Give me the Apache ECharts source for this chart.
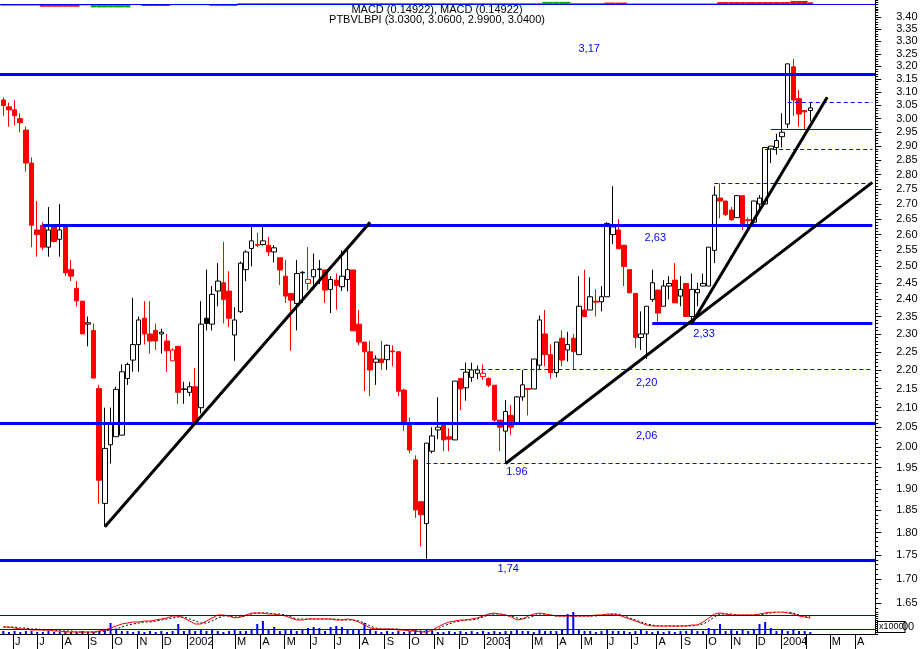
<!DOCTYPE html>
<html>
<head>
<meta charset="utf-8">
<title>PTBVLBPI</title>
<script src="https://cdn.jsdelivr.net/npm/echarts@6.0.0/dist/echarts.min.js"></script>
<style>
html,body{margin:0;padding:0;background:#ffffff;}
#chart{width:922px;height:649px;}
</style>
</head>
<body>
<div id="chart"></div>
<script>
// ---------------- DATA ----------------
// weekly candles, week index i = -1 .. 143 (first one is partly outside the plot)
const firstWeek = '2001-05-11';
const weekCount = 156; // categories i = -1 .. 154 (the last weeks are empty)

const priceOpen = [3.075,
 3.07,3.044,3.033,3.00,2.958,2.84,2.615,2.63,2.56,2.625,
 2.585,2.625,2.49,2.433,2.395,2.328,2.31,2.15,1.866,2.006,
 2.026,2.03,2.177,2.227,2.27,2.345,2.30,2.31,2.30,2.28,
 2.225,2.265,2.148,2.14,2.155,2.10,2.345,2.328,2.425,2.45,
 2.425,2.297,2.364,2.49,2.556,2.568,2.568,2.566,2.545,2.527,
 2.47,2.418,2.388,2.48,2.448,2.468,2.49,2.489,2.43,2.458,
 2.438,2.46,2.489,2.328,2.277,2.25,2.221,2.23,2.228,2.252,
 2.25,2.146,2.058,1.969,1.87,1.82,1.99,2.043,2.058,2.026,
 2.018,2.177,2.152,2.18,2.191,2.182,2.177,2.159,2.068,2.04,
 2.08,2.06,2.128,2.15,2.149,2.213,2.30,2.242,2.193,2.288,
 2.255,2.288,2.242,2.369,2.369,2.395,2.393,2.408,2.60,2.615,
 2.566,2.49,2.418,2.29,2.30,2.40,2.428,2.38,2.44,2.458,
 2.41,2.448,2.35,2.42,2.44,2.44,2.55,2.72,2.71,2.68,
 2.655,2.728,2.648,2.64,2.70,2.70,2.89,2.895,2.934,2.98,
 3.198,3.075,3.03,3.03];
const priceClose = [3.085,
 3.049,3.033,3.011,2.985,2.84,2.63,2.60,2.56,2.615,2.578,
 2.615,2.48,2.47,2.396,2.30,2.332,2.178,1.92,1.997,2.06,
 2.148,2.195,2.215,2.27,2.34,2.30,2.28,2.28,2.305,2.253,
 2.255,2.14,2.149,2.155,2.06,2.328,2.33,2.415,2.455,2.40,
 2.345,2.34,2.51,2.545,2.58,2.566,2.58,2.545,2.558,2.489,
 2.41,2.398,2.478,2.482,2.46,2.49,2.492,2.428,2.46,2.442,
 2.47,2.49,2.309,2.277,2.25,2.20,2.23,2.22,2.268,2.25,
 2.143,2.06,1.993,1.851,1.84,2.01,2.028,2.05,2.018,2.02,
 2.17,2.149,2.194,2.20,2.20,2.191,2.159,2.068,2.05,2.09,
 2.05,2.128,2.16,2.148,2.23,2.34,2.242,2.193,2.277,2.227,
 2.27,2.25,2.38,2.35,2.408,2.392,2.408,2.636,2.625,2.555,
 2.50,2.42,2.29,2.30,2.38,2.45,2.36,2.44,2.448,2.39,
 2.43,2.35,2.43,2.43,2.448,2.56,2.73,2.71,2.665,2.648,
 2.728,2.636,2.645,2.71,2.72,2.895,2.90,2.92,2.95,3.21,
 3.07,3.017,3.025,3.04];
const priceLow = [3.07,
 3.01,2.97,2.975,2.95,2.81,2.56,2.53,2.55,2.53,2.575,
 2.53,2.47,2.455,2.38,2.30,2.265,2.178,1.865,1.813,1.96,
 2.026,2.03,2.16,2.195,2.195,2.27,2.245,2.255,2.245,2.195,
 2.225,2.11,2.11,2.13,2.06,2.085,2.31,2.31,2.38,2.33,
 2.32,2.225,2.36,2.455,2.50,2.56,2.565,2.532,2.512,2.443,
 2.39,2.253,2.31,2.39,2.428,2.43,2.446,2.39,2.36,2.37,
 2.425,2.424,2.309,2.268,2.143,2.13,2.16,2.20,2.20,2.21,
 2.13,2.04,1.985,1.833,1.77,1.743,1.985,2.02,1.99,1.99,
 2.018,2.094,2.118,2.168,2.175,2.173,2.154,2.058,1.99,1.96,
 2.03,2.055,2.118,2.08,2.149,2.20,2.21,2.177,2.18,2.21,
 2.223,2.20,2.242,2.35,2.369,2.35,2.365,2.408,2.57,2.555,
 2.44,2.418,2.26,2.255,2.23,2.393,2.33,2.38,2.40,2.39,
 2.38,2.35,2.33,2.38,2.44,2.44,2.51,2.653,2.66,2.645,
 2.655,2.615,2.62,2.635,2.68,2.70,2.84,2.87,2.895,2.965,
 3.01,2.97,2.96,2.99];
const priceHigh = [3.09,
 3.08,3.06,3.07,3.02,2.97,2.86,2.71,2.64,2.69,2.63,
 2.70,2.625,2.52,2.455,2.395,2.35,2.33,2.16,2.10,2.10,
 2.155,2.215,2.22,2.405,2.35,2.395,2.395,2.33,2.315,2.30,
 2.26,2.265,2.168,2.168,2.205,2.395,2.49,2.44,2.51,2.577,
 2.485,2.377,2.515,2.55,2.625,2.605,2.625,2.593,2.566,2.527,
 2.52,2.418,2.52,2.485,2.56,2.54,2.52,2.49,2.47,2.478,
 2.55,2.554,2.489,2.369,2.277,2.28,2.24,2.28,2.27,2.268,
 2.25,2.15,2.075,1.98,1.87,2.01,2.05,2.127,2.063,2.047,
 2.17,2.177,2.22,2.22,2.212,2.215,2.18,2.159,2.068,2.12,
 2.107,2.13,2.20,2.15,2.23,2.353,2.369,2.27,2.277,2.31,
 2.306,2.30,2.47,2.49,2.466,2.43,2.44,2.64,2.76,2.65,
 2.566,2.49,2.418,2.365,2.38,2.49,2.428,2.458,2.47,2.51,
 2.47,2.448,2.478,2.45,2.478,2.56,2.76,2.77,2.71,2.69,
 2.73,2.728,2.655,2.71,2.73,2.895,2.90,2.945,3.02,3.21,
 3.23,3.108,3.03,3.06];
const blackFilledWeeks = [36];
const hollowRedWeeks = [30, 54, 85];

// MACD panel (i = 0 .. 143), panel units
const macdLine = [7,7,6,5,5,4,4,4,4,3, 3,2,2,2,2,2,2,3,4,6, 8,10,11,12,12,13,13,14,15,16,
 18,18,16,13,10,10,13,16,19,19, 18,16,17,19,21,21,21,20,20,19, 18,16,14,14,15,15,15,15,15,14,
 14,15,14,12,9,6,5,5,5,5, 4,4,3,3,2,2,4,7,10,12, 13,14,14,15,16,18,20,21,20,19,
 17,14,15,18,20,21,20,19,18,18, 18,18,18,18,18,19,19,20,20,19, 17,15,13,11,9,8,8,8,8,8,
 8,8,9,9,12,16,20,21,20,19, 19,19,19,19,20,21,22,22,22,21, 20,18,17,16];
const macdSignal = [7,7,7,6,6,5,5,4,4,4, 3,3,3,2,2,2,2,2,3,4, 5,7,9,10,11,12,12,13,14,15,
 16,17,17,15,13,11,11,13,16,18, 18,17,17,18,20,21,21,21,20,20, 19,17,15,15,15,15,15,15,15,15,
 14,14,14,13,11,8,6,5,5,5, 5,4,4,3,3,2,3,5,8,10, 12,13,14,14,15,17,19,20,20,19,
 18,16,15,16,18,20,20,19,18,18, 18,18,18,18,18,18,19,19,20,20, 18,16,14,12,10,9,8,8,8,8,
 8,8,8,9,10,13,17,20,20,20, 19,19,19,19,19,20,21,22,22,22, 21,19,18,17];
const volumeBars = [3,2,3,2,3,3,2,2,3,2, 2,3,2,2,3,2,2,3,4,11, 4,3,3,2,3,2,3,2,3,2,
 3,10,3,4,3,5,3,4,3,2, 3,4,3,3,4,10,13,4,7,3, 4,5,3,4,6,7,6,3,7,8,
 7,4,5,4,11,4,3,2,3,2, 3,2,3,4,3,4,3,2,2,3, 2,3,2,3,2,3,2,3,2,3,
 3,4,3,3,2,4,3,3,3,4, 20,22,4,3,3,2,3,4,3,3, 3,2,3,4,3,2,3,2,3,2,
 3,3,4,3,3,6,4,10,3,4, 3,4,3,4,10,12,6,3,4,3, 4,3,3,2];

// top strip histogram (i = 0 .. 143)
const topRed = [-0.2,-0.2,-0.2,-0.2,-0.2,-0.2,-0.2, -0.45,-0.45,-0.45,-0.45,-0.45,-0.45,-0.45,
 -0.15,-0.15, 0,0,0,0,0,0,0, -0.1,-0.1, -0.3,-0.3,-0.3,-0.3,-0.3, -0.1,-0.1,-0.1,-0.1,-0.1,-0.1,-0.1,
 -0.25,-0.25,-0.25,-0.25,-0.25,
 0.3,0.3,0.3,0.3,0.3,0.3,0.3,0.3,0.3,0.3, 0.3,0.3,0.3,0.3,0.3,0.3,0.3,0.3,0.3,0.3,
 0.3,0.3,0.3,0.3,0.3,0.3,0.3,0.3,0.3,0.3, 0.3,0.3,0.3,0.3,0.3,0.3,0.3,0.3,0.3,0.3,
 0.3,0.3,0.3,0.3,0.3,0.3,0.3,0.3,0.3,0.3, 0.3,0.3,0.3,0.3,
 0,0,0,0,0, 0.3,0.3,0.3,0.3,0.3,0.3, 0.45,0.45,0.45,0.45,
 0.25,0.25,0.25,0.25,0.25,0.25,0.25,0.25,0.25,0.25,0.25,0.25,0.25,0.25,0.25,0.25,
 0.55,0.55,0.55,0.55,0.55,0.55,0.55,0.55,0.55,0.55,0.55,0.55,0.55, 0.8,0.8,0.8, 0.5];
const topGreen = ['-','-','-','-','-','-','-','-','-','-','-','-','-','-','-','-',
 -0.6,-0.6,-0.6,-0.6,-0.6,-0.6,-0.6];
const topGreenLater = [96,97,98,99,100];

// price axis ticks
const priceTicks = [1.65,1.70,1.75,1.80,1.85,1.90,1.95,2.00,2.05,2.10,2.15,2.20,2.25,2.30,2.35,2.40,
 2.45,2.50,2.55,2.60,2.65,2.70,2.75,2.80,2.85,2.90,2.95,3.00,3.05,3.10,3.15,3.20,3.25,3.30,3.35,3.40];
const monthLetters = ['','','M','A','M','J','J','A','S','O','N','D'];

// horizontal levels
const levelsFull = [3.17, 2.06, 1.74];
const levelsPartial = [2.63, 2.33];
const levelsPartialFrom = [7, 115];
const levelsDashed = [2.2012, 1.9601, 2.7693, 2.8905, 3.0604];
const levelsDashedFrom = [81, 75, 126, 135, 139];
const levelsThin = [2.96];
const levelsThinFrom = [136];

// trend lines (week index, price)
const trendFromWeek = [18, 89, 122];
const trendFromPrice = [1.813, 1.96, 2.33];
const trendToWeek = [65, 154, 146];
const trendToPrice = [2.64, 2.773, 3.08];

// annotations
const annoText = ['3,17','2,63','2,33','2,20','2,06','1.96','1,74'];
const annoWeek = [104, 115, 124, 114, 114, 91, 90];
const annoPrice = [3.269, 2.589, 2.300, 2.165, 2.028, 1.940, 1.721];
const annoDx = [-1, 3, 1, 0, 0, 0, -3];

// ---------------- BUILD ----------------
const FONT = 'Liberation Sans';
const DAY = 86400000;
const BLUE = '#0000ff';
const categories = [];
{
  const t0 = Date.parse(firstWeek + 'T00:00:00Z');
  for (let k = 0; k < weekCount; k++) categories.push(new Date(t0 + k * 7 * DAY).toISOString().slice(0, 10));
}
const cat = i => categories[i + 1];
const lastCat = categories[weekCount - 1];

const candleData = priceOpen.map((o, k) => {
  const i = k - 1;
  const item = { value: [o, priceClose[k], priceLow[k], priceHigh[k]] };
  if (blackFilledWeeks.includes(i)) item.itemStyle = { color: '#000000', color0: '#000000', borderColor: '#000000', borderColor0: '#000000' };
  if (hollowRedWeeks.includes(i)) item.itemStyle = { color: '#ffffff', color0: '#ffffff', borderColor: '#ff0000', borderColor0: '#ff0000' };
  return item;
});

const thick = { color: BLUE, width: 3, type: 'solid', opacity: 1 };
const dashed = { color: BLUE, width: 1, type: [4, 3], opacity: 1 };
const thin = { color: BLUE, width: 1, type: 'solid', opacity: 1 };
const trendStyle = { color: '#000000', width: 3, type: 'solid', opacity: 1 };
const ml = [];
levelsFull.forEach(v => ml.push({ yAxis: v, lineStyle: thick }));
levelsPartial.forEach((v, n) => ml.push([{ coord: [cat(levelsPartialFrom[n]), v], lineStyle: thick }, { coord: [lastCat, v], lineStyle: thick }]));
levelsDashed.forEach((v, n) => ml.push([{ coord: [cat(levelsDashedFrom[n]), v], lineStyle: dashed }, { coord: [lastCat, v], lineStyle: dashed }]));
levelsThin.forEach((v, n) => ml.push([{ coord: [cat(levelsThinFrom[n]), v], lineStyle: thin }, { coord: [lastCat, v], lineStyle: thin }]));
trendFromWeek.forEach((w, n) => ml.push([{ coord: [cat(w), trendFromPrice[n]], lineStyle: trendStyle }, { coord: [cat(trendToWeek[n]), trendToPrice[n]], lineStyle: trendStyle }]));

const mp = annoText.map((t, n) => ({
  coord: [cat(annoWeek[n]), annoPrice[n]], value: 0,
  label: { formatter: t, offset: [annoDx[n], 0] }
}));

const minorTicks = [];
for (let c = 164; c <= 343; c++) minorTicks.push(c / 100);

const monthStarts = [];
{
  let y = 2001, m = 5;
  while (y < 2004 || (y === 2004 && m <= 3)) {
    monthStarts.push(Date.UTC(y, m, 1));
    m++; if (m > 11) { m = 0; y++; }
  }
}
const monthLabelValues = monthStarts.filter(t => new Date(t).getUTCMonth() !== 1);
const dateMin = Date.UTC(2002, 0, 1) - 236.2 * DAY;
const dateMax = Date.UTC(2004, 0, 1) + 115.8 * DAY;

const pad = arr => ['-'].concat(arr);
const topGreenFull = topGreen.concat(new Array(144 - topGreen.length).fill('-')).map((v, i) => topGreenLater.includes(i) ? 0.6 : v);
const topGreenData = pad(topGreenFull);

const gridL = -5.16, gridR = 46.8;
const option = {
  animation: false,
  backgroundColor: '#ffffff',
  textStyle: { fontFamily: FONT },
  grid: [
    { left: gridL, right: gridR, top: 0, height: 9.3, outerBoundsMode: 'none', containLabel: false },
    { left: gridL, right: gridR, top: 10, height: 602, outerBoundsMode: 'none', containLabel: false },
    { left: gridL, right: gridR, top: 612, height: 22, outerBoundsMode: 'none', containLabel: false }
  ],
  xAxis: [
    { type: 'category', gridIndex: 0, data: categories, position: 'bottom', boundaryGap: true,
      axisLine: { show: true, lineStyle: { color: '#000000', width: 1 } }, axisTick: { show: false }, axisLabel: { show: false }, splitLine: { show: false } },
    { type: 'category', gridIndex: 1, data: categories, show: false, boundaryGap: true },
    { type: 'category', gridIndex: 2, data: categories, show: false, boundaryGap: true, position: 'top' },
    { type: 'value', gridIndex: 2, position: 'bottom', min: dateMin, max: dateMax, scale: true,
      axisLine: { show: true, onZero: false, lineStyle: { color: '#000000', width: 1 } },
      axisTick: { show: true, length: 15, customValues: monthStarts, lineStyle: { color: '#000000', width: 1 } },
      axisLabel: { show: true, customValues: monthLabelValues, margin: 2, align: 'left', padding: [0, 0, 0, 2],
        color: '#000000', fontSize: 11, fontFamily: FONT, hideOverlap: false, showMinLabel: true, showMaxLabel: true,
        formatter: v => { const d = new Date(v); const m = d.getUTCMonth(); return m === 0 ? String(d.getUTCFullYear()) : monthLetters[m]; } },
      splitLine: { show: false } }
  ],
  yAxis: [
    { type: 'value', gridIndex: 0, position: 'right', min: -1, max: 1, interval: 0.5,
      axisLine: { show: true, onZero: false, lineStyle: { color: '#000000' } }, axisTick: { show: true, length: 3, lineStyle: { color: '#000000' } },
      axisLabel: { show: false }, splitLine: { show: false } },
    { type: 'log', logBase: 10, gridIndex: 1, position: 'right', min: 1.6319, max: 3.4305,
      axisLine: { show: true, onZero: false, lineStyle: { color: '#000000', width: 1 } },
      axisTick: { show: true, length: 6, customValues: priceTicks, lineStyle: { color: '#000000' } },
      axisLabel: { show: true, customValues: priceTicks, margin: 21, color: '#000000', fontSize: 11, fontFamily: FONT,
        formatter: v => Number(v).toFixed(2) },
      splitLine: { show: false }, minorTick: { show: false } },
    { type: 'log', logBase: 10, gridIndex: 1, position: 'right', min: 1.6319, max: 3.4305,
      axisLine: { show: false },
      axisTick: { show: true, length: 3, customValues: minorTicks, lineStyle: { color: '#000000' } },
      axisLabel: { show: false }, splitLine: { show: false } },
    { type: 'value', gridIndex: 2, position: 'right', min: 0, max: 22, interval: 2,
      axisLine: { show: true, onZero: false, lineStyle: { color: '#000000' } }, axisTick: { show: true, length: 3, lineStyle: { color: '#000000' } },
      axisLabel: { show: false }, splitLine: { show: false } }
  ],
  series: [
    { type: 'bar', xAxisIndex: 0, yAxisIndex: 0, data: pad(topRed), barWidth: '100%', silent: true,
      itemStyle: { color: '#ff0000' },
      markLine: { silent: true, symbol: ['none', 'none'], label: { show: false }, lineStyle: { color: BLUE, width: 1, type: 'solid' }, data: [{ yAxis: 0 }] } },
    { type: 'bar', xAxisIndex: 0, yAxisIndex: 0, data: topGreenData, barWidth: '100%', barGap: '-100%', silent: true,
      itemStyle: { color: '#00b000' } },
    { type: 'candlestick', xAxisIndex: 1, yAxisIndex: 1, data: candleData, barWidth: 5, silent: true,
      itemStyle: { color: '#ffffff', color0: '#ff0000', borderColor: '#000000', borderColor0: '#ff0000', borderWidth: 1 },
      markLine: { silent: true, symbol: ['none', 'none'], label: { show: false }, lineStyle: { color: BLUE, opacity: 1 }, data: ml },
      markPoint: { silent: true, symbol: 'circle', symbolSize: 1, itemStyle: { color: 'rgba(0,0,0,0)' },
        label: { show: true, position: 'inside', color: BLUE, fontSize: 11, fontFamily: FONT }, data: mp } },
    { type: 'bar', xAxisIndex: 2, yAxisIndex: 3, data: pad(volumeBars), barWidth: 2, silent: true, itemStyle: { color: BLUE } },
    { type: 'line', xAxisIndex: 2, yAxisIndex: 3, data: pad(macdSignal), symbol: 'none', silent: true,
      lineStyle: { color: '#000000', width: 1, type: [2, 2] } },
    { type: 'line', xAxisIndex: 2, yAxisIndex: 3, data: pad(macdLine), symbol: 'none', silent: true,
      lineStyle: { color: '#ff0000', width: 1 },
      markLine: { silent: true, symbol: ['none', 'none'], label: { show: false }, lineStyle: { color: BLUE, width: 1, type: 'solid' },
        data: [{ yAxis: 19 }, { yAxis: 5 }] } }
  ],
  graphic: [
    { type: 'text', x: 437, y: 10, z: 100, style: { text: 'MACD (0.14922), MACD (0.14922)', font: '11px "Liberation Sans"', fill: '#000000', align: 'center', verticalAlign: 'middle' } },
    { type: 'text', x: 437, y: 20, z: 100, style: { text: 'PTBVLBPI (3.0300, 3.0600, 2.9900, 3.0400)', font: '11px "Liberation Sans"', fill: '#000000', align: 'center', verticalAlign: 'middle' } },
    { type: 'text', x: 878, y: 627, z: 100, style: { text: 'x1000', font: '9px "Liberation Sans"', fill: '#000000', align: 'left', verticalAlign: 'middle', backgroundColor: '#ffffff', borderColor: '#000000', borderWidth: 1, padding: [1, 1, 0, 1] } },
    { type: 'text', x: 902, y: 627, z: 100, style: { text: '00', font: '11px "Liberation Sans"', fill: '#000000', align: 'left', verticalAlign: 'middle' } }
  ]
};
const chart = echarts.init(document.getElementById('chart'), null, { renderer: 'canvas' });
chart.setOption(option);
</script>
</body>
</html>
